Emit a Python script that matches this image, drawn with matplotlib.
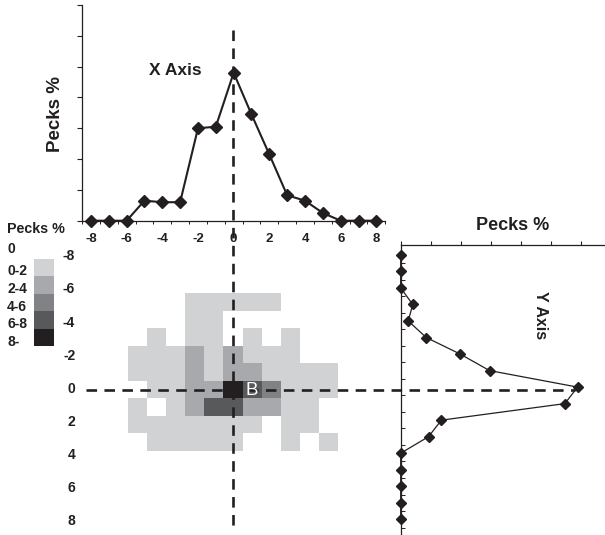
import matplotlib
matplotlib.use('Agg')
import matplotlib.pyplot as plt
import numpy as np
from matplotlib.colors import ListedColormap, BoundaryNorm
from matplotlib.lines import Line2D
from matplotlib.patches import Rectangle
import matplotlib.transforms as mtransforms

plt.rcParams['font.family'] = ['Liberation Sans', 'DejaVu Sans']

# ---------------- data ----------------
positions = list(range(-8, 9))
x_axis_pecks = [0, 0, 0, 1.3, 1.2, 1.2, 6.0, 6.1, 9.6, 6.9, 4.3, 1.65, 1.3, 0.5, 0, 0, 0]
y_axis_pecks = [0, 0, 0, 0.8, 0.5, 1.7, 3.95, 5.9, 11.75, 10.9, 2.7, 1.85, 0, 0, 0, 0, 0]

grid_x = list(range(-5, 6))
grid_y = list(range(-5, 4))
# level: 0 none, 1 "0-2", 2 "2-4", 3 "4-6", 4 "6-8", 5 "8-"
row_m5 = [0, 0, 0, 1, 1, 1, 1, 1, 0, 0, 0]
row_m4 = [0, 0, 0, 1, 1, 0, 0, 0, 0, 0, 0]
row_m3 = [0, 1, 0, 1, 1, 0, 1, 0, 1, 0, 0]
row_m2 = [1, 1, 1, 2, 1, 2, 1, 1, 1, 0, 0]
row_m1 = [1, 1, 1, 2, 1, 2, 2, 1, 1, 1, 1]
row_0 = [0, 1, 1, 2, 2, 5, 4, 3, 1, 1, 1]
row_p1 = [1, 0, 1, 2, 4, 4, 2, 2, 1, 1, 0]
row_p2 = [1, 1, 1, 1, 1, 1, 1, 0, 1, 1, 0]
row_p3 = [0, 1, 1, 1, 1, 1, 0, 0, 1, 0, 1]

legend_labels = ['0-2', '2-4', '4-6', '6-8', '8-']
level_colors = ['#d1d2d4', '#a7a9ac', '#808285', '#58595b', '#231f20']
tick_vals = [-8, -6, -4, -2, 0, 2, 4, 6, 8]

# ---------------- layout helpers ----------------
W, H = 605, 535
fig = plt.figure(figsize=(W / 100, H / 100), dpi=100)
fig.patch.set_facecolor('white')


def rect(l, t, r, b):
    return [l / W, 1 - b / H, (r - l) / W, (b - t) / H]


def ftext(x, y, s, **kw):
    return fig.text(x / W, 1 - y / H, s, **kw)


ink = '#231f20'

# ---------------- top marginal plot ----------------
ax_top = fig.add_axes(rect(82, 5, 385.3, 220.7))
ax_top.plot(positions, x_axis_pecks, color=ink, lw=1.5, marker='D', ms=6.5,
            mfc=ink, mec=ink, clip_on=False, zorder=3)
ax_top.set_xlim(-8.5, 8.5)
ax_top.set_ylim(0, 14)
ax_top.spines['top'].set_visible(False)
ax_top.spines['right'].set_visible(False)
for s in ['left', 'bottom']:
    ax_top.spines[s].set_linewidth(0.9)
    ax_top.spines[s].set_color(ink)
ax_top.set_yticks(np.arange(0, 15, 2))
ax_top.set_yticklabels([])
ax_top.tick_params(axis='y', direction='out', length=3.5, width=0.8, color=ink)
ax_top.set_xticks(tick_vals)
ax_top.set_xticklabels([str(v) for v in tick_vals], fontsize=9.5, fontweight='bold', color=ink)
ax_top.set_xticks(np.arange(-8.5, 9, 1), minor=True)
ax_top.tick_params(axis='x', which='major', length=0, pad=9)
ax_top.tick_params(axis='x', which='minor', direction='out', length=2.5, width=0.7, color=ink)
ax_top.patch.set_alpha(0)
ax_top.text(-3.25, 9.75, 'X Axis', fontsize=12.5, fontweight='bold', ha='center', va='center', color=ink)
ftext(55, 114, 'Pecks %', fontsize=13.5, fontweight='bold', rotation=90,
      ha='center', va='center', color=ink)

# ---------------- heat map ----------------
ax_heat = fig.add_axes(rect(71.2, 249.5, 394.8, 529.5))
grid = np.array([row_m5, row_m4, row_m3, row_m2, row_m1, row_0, row_p1, row_p2, row_p3], dtype=float)
masked = np.ma.masked_where(grid == 0, grid)
cmap = ListedColormap(level_colors)
norm = BoundaryNorm([0.5, 1.5, 2.5, 3.5, 4.5, 5.5], cmap.N)
xe = np.arange(grid_x[0] - 0.5, grid_x[-1] + 1.0, 1)
ye = np.arange(grid_y[0] - 0.5, grid_y[-1] + 1.0, 1)
ax_heat.pcolormesh(xe, ye, masked, cmap=cmap, norm=norm, shading='flat')
ax_heat.set_xlim(-8.5, 8.5)
ax_heat.set_ylim(8, -8)
ax_heat.axis('off')

# y labels for the map (share scale with the right plot)
ylo, yhi = 8.95, -8.6
ax_lab = fig.add_axes(rect(78, 245, 79, 535))
ax_lab.set_ylim(ylo, yhi)
ax_lab.set_xticks([])
ax_lab.set_yticks(tick_vals)
ax_lab.set_yticklabels([str(v) for v in tick_vals], fontsize=10, fontweight='bold', color=ink)
ax_lab.tick_params(axis='y', length=0, pad=2)
for s in ax_lab.spines.values():
    s.set_visible(False)
ax_lab.patch.set_alpha(0)

# ---------------- right marginal plot ----------------
ax_r = fig.add_axes(rect(400.7, 245, 605, 535))
ax_r.plot(y_axis_pecks, positions, color=ink, lw=0.9, marker='D', ms=5.5,
          mfc=ink, mec=ink, clip_on=False, zorder=3)
ax_r.set_xlim(0, 13.57)
ax_r.set_ylim(ylo, yhi)
ax_r.spines['bottom'].set_visible(False)
ax_r.spines['right'].set_visible(False)
for s in ['left', 'top']:
    ax_r.spines[s].set_linewidth(0.9)
    ax_r.spines[s].set_color(ink)
ax_r.xaxis.set_ticks_position('top')
ax_r.set_xticks(np.arange(0, 13, 2))
ax_r.set_xticklabels([])
ax_r.tick_params(axis='x', direction='out', length=3, width=0.8, color=ink)
ax_r.set_yticks([])
ax_r.set_yticks(np.arange(-7.5, 9, 1), minor=True)
ax_r.tick_params(axis='y', which='minor', direction='in', length=3, width=0.7, color=ink)
ax_r.patch.set_alpha(0)
ftext(513, 226, 'Pecks %', fontsize=13, fontweight='bold', ha='center', va='center', color=ink)
ftext(541, 315, 'Y Axis', fontsize=11.5, fontweight='bold', rotation=-90,
      ha='center', va='center', color=ink)

# ---------------- legend ----------------
ftext(7, 229, 'Pecks %', fontsize=10.3, fontweight='bold', ha='left', va='center', color=ink)
ftext(7, 249, '0', fontsize=10, fontweight='bold', ha='left', va='center', color=ink)
label_y = [271, 289, 307, 324, 342]
sw_top = 259
sw_h = 17.4
for i, (lab, col) in enumerate(zip(legend_labels, level_colors)):
    ftext(7, label_y[i], lab, fontsize=10, fontweight='bold', ha='left', va='center', color=ink)
    fig.add_artist(Rectangle((34 / W, 1 - (sw_top + (i + 1) * sw_h) / H), 20 / W, sw_h / H,
                             transform=fig.transFigure, facecolor=col, edgecolor='none'))

# ---------------- dashed guide lines ----------------
dash = dict(color=ink, lw=1.9, dashes=(4, 2.8), zorder=5)
tv = mtransforms.blended_transform_factory(ax_heat.transData, fig.transFigure)
fig.add_artist(Line2D([0, 0], [1 - 30 / H, 1 - 530 / H], transform=tv, **dash))
th = mtransforms.blended_transform_factory(fig.transFigure, ax_heat.transData)
fig.add_artist(Line2D([86 / W, 575 / W], [0, 0], transform=th, **dash))

# label of the bird's position, drawn above the guide lines
fig.text(1, 0.05, 'B', transform=ax_heat.transData, color='white', fontsize=13.5,
         ha='center', va='center', zorder=6)

fig.savefig('out.png', dpi=100, facecolor='white')
